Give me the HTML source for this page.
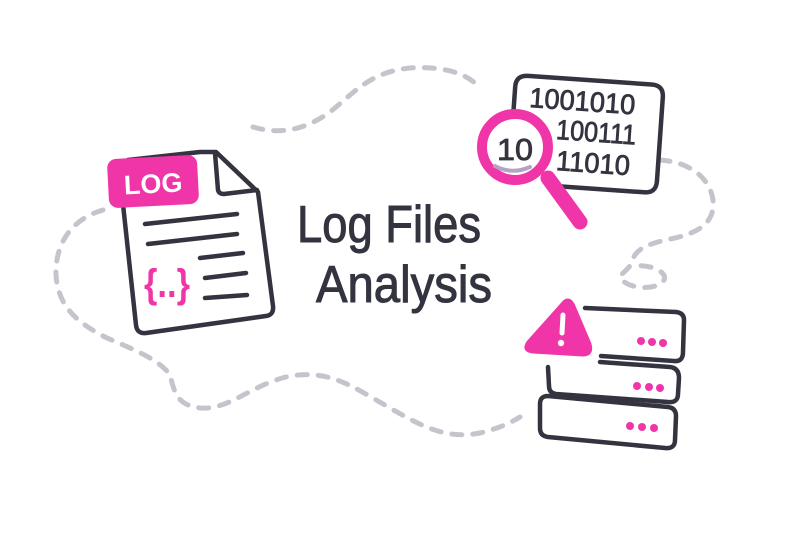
<!DOCTYPE html>
<html><head><meta charset="utf-8"><style>
html,body{margin:0;padding:0;background:#fff;}
svg{display:block;}
</style></head><body>
<svg width="800" height="533" viewBox="0 0 800 533" xmlns="http://www.w3.org/2000/svg">
<g fill="none" stroke="#c4c5cc" stroke-width="5" stroke-linecap="round" stroke-dasharray="10 11">
<path d="M253,127 C280,135 305,130 330,112 C355,92 370,72 410,68 C440,66 465,72 478,86"/>
<path d="M660,160 C690,162 710,178 713,200 C715,222 700,232 675,238 C650,243 635,248 632,262 C628,272 616,275 622,280 C632,290 658,290 664,280 C668,272 650,264 635,266"/>
<path d="M103,210 C75,218 55,240 56,275 C58,305 75,322 107,338 C135,350 160,360 170,375 C175,395 178,405 200,408 C230,410 250,385 290,376 C330,370 350,385 390,408 C420,425 445,440 480,433 C500,428 512,422 520,417"/>
</g>
<!-- document -->
<g stroke="#33343f" stroke-width="4.5" fill="#fff" stroke-linecap="round" stroke-linejoin="round">
<path d="M122,195 L136,325 Q137,334 146,333 L266,316 Q274,315 273,306 L258,192 L216,152 L200,152 L128,160"/>
<path d="M215,153 L218,190 Q219,194 224,194 L257,190" fill="none"/>
<path d="M145,224 L237,214 M148,244 L237,234 M200,258 L243,253 M205,278 L246,273 M205,298 L247,295" fill="none"/>
</g>
<g transform="rotate(-3 153 181)">
<rect x="108" y="157" width="90" height="49" rx="9" fill="#f035a9"/>
<text x="153" y="193" text-anchor="middle" font-family="Liberation Sans, sans-serif" font-weight="bold" font-size="27" fill="#fff">LOG</text>
</g>
<text x="167" y="297" text-anchor="middle" font-family="Liberation Sans, sans-serif" font-weight="bold" font-size="40" fill="#f035a9" textLength="46" lengthAdjust="spacingAndGlyphs">{..}</text>
<!-- title -->
<g font-family="Liberation Sans, sans-serif" font-size="52" fill="#33343f" stroke="#33343f" stroke-width="1">
<text x="297" y="242" textLength="184" lengthAdjust="spacingAndGlyphs">Log Files</text>
<text x="316" y="302" textLength="176" lengthAdjust="spacingAndGlyphs">Analysis</text>
</g>
<!-- binary panel -->
<g transform="rotate(4 585 135)">
<path d="M512,115 L512,92 Q512,80 524,80 L648,80 Q660,80 660,92 L660,176 Q660,188 648,188 L560,188" fill="none" stroke="#33343f" stroke-width="4.5" stroke-linecap="round"/>
<g font-family="Liberation Sans, sans-serif" font-size="28" fill="#33343f" stroke="#33343f" stroke-width="0.8">
<text x="527" y="111" textLength="106" lengthAdjust="spacingAndGlyphs">1001010</text>
<text x="556" y="141" textLength="80" lengthAdjust="spacingAndGlyphs">100111</text>
<text x="558" y="172" textLength="74" lengthAdjust="spacingAndGlyphs">11010</text>
</g>
</g>
<!-- magnifier -->
<line x1="548" y1="178" x2="580" y2="222" stroke="#f035a9" stroke-width="15" stroke-linecap="round"/>
<circle cx="515" cy="147" r="33" fill="#fff" stroke="#f035a9" stroke-width="10"/>
<text x="515" y="160" text-anchor="middle" font-family="Liberation Sans, sans-serif" font-size="31" fill="#33343f" stroke="#33343f" stroke-width="0.8" textLength="36" lengthAdjust="spacingAndGlyphs">10</text>
<path d="M495,166 Q512,175 530,167" fill="none" stroke="#b4a3c6" stroke-width="4" stroke-linecap="round"/>
<!-- server -->
<g fill="none" stroke="#33343f" stroke-width="4.5" stroke-linecap="round" stroke-linejoin="round">
<path d="M585,308 L676,312 Q684,313 684,320 L683,352 Q683,362 674,361 L601,356"/>
<path d="M548,367 L549,386 Q549,393 556,394 L668,402 Q678,403 678,394 L679,378 Q679,368 670,367 L600,362"/>
<path d="M548,396 L668,407 Q676,408 676,416 L675,440 Q675,449 665,448 L548,437 Q540,436 540,428 L540,404 Q540,396 548,396 Z"/>
</g>
<g fill="#f035a9">
<circle cx="641" cy="341" r="4"/><circle cx="652" cy="342" r="4"/><circle cx="663" cy="343" r="4"/>
<circle cx="637" cy="386" r="4"/><circle cx="649" cy="387" r="4"/><circle cx="660" cy="388" r="4"/>
<circle cx="630" cy="426" r="4"/><circle cx="642" cy="427" r="4"/><circle cx="654" cy="428" r="4"/>
</g>
<path d="M562,304 Q568,296 573,304 L590,344 Q593,355 583,355 L533,352 Q522,351 528,342 Z" fill="#f035a9" stroke="#f035a9" stroke-width="3" stroke-linejoin="round"/>
<line x1="563" y1="315" x2="562" y2="333" stroke="#fff" stroke-width="5" stroke-linecap="round"/>
<circle cx="561" cy="343" r="3.2" fill="#fff"/>
</svg>
</body></html>
